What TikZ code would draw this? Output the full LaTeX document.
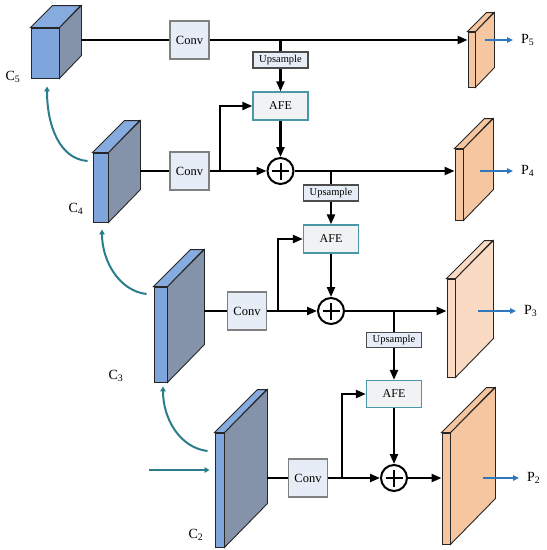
\documentclass[tikz,border=0pt]{standalone}
\usepackage{fontspec}
\setmainfont{Liberation Serif}
\usepackage{tikz}
\usetikzlibrary{arrows.meta, positioning, calc}
\definecolor{cfront}{HTML}{7FA6DC}
\definecolor{cside}{HTML}{8493AA}
\definecolor{ctop}{HTML}{86ABDE}
\definecolor{pfront}{HTML}{F6C6A0}
\definecolor{plight}{HTML}{FADAC2}
\definecolor{boxfill}{HTML}{E7EDF6}
\definecolor{afefill}{HTML}{F1F2F3}
\definecolor{afeline}{HTML}{4A97A8}
\definecolor{curveteal}{HTML}{2C7D8C}
\definecolor{outblue}{HTML}{2F77BC}
\tikzset{
	convbox/.style={draw=black!50, fill=boxfill, line width=1.1pt, minimum width=39, minimum height=38, inner sep=0, font=\fontsize{12.5}{14}\selectfont}
}
\tikzset{
	upbox/.style={draw=black!70, fill=boxfill, line width=1.1pt, minimum width=55, minimum height=16, inner sep=0, font=\fontsize{10.5}{12}\selectfont},
	afebox/.style={draw=afeline, fill=afefill, line width=1.3pt, minimum width=55, minimum height=28, inner sep=0, font=\fontsize{12}{13}\selectfont}
}
\tikzset{
	addop/.style={circle, draw, line width=2pt, minimum size=26, inner sep=0,
		path picture={\draw[line width=2pt] ($(path picture bounding box.center)+(-8.5,0)$) -- +(17,0)
			($(path picture bounding box.center)+(0,-8.5)$) -- +(0,17);}},
	plain/.style={line width=2.2pt},
	flow/.style={line width=2.2pt, -{Triangle[length=10pt,width=8pt]}},
	lateral/.style={curveteal, line width=2pt, -{Triangle[length=5pt,width=5.5pt]}},
	outarrow/.style={outblue, line width=1.6pt, -{Triangle[length=6pt,width=5.5pt]}},
	slab/.style={draw=black!85, line width=0.9pt, inner sep=0},
	lvl/.style={font=\fontsize{14}{16}\selectfont},
	plab/.style={font=\fontsize{14}{16}\selectfont, anchor=west, inner xsep=8, inner ysep=0}
}

\begin{document}
\begin{tikzpicture}[x=1pt, y=-1pt]
      \useasboundingbox (0,0) rectangle (547,550);
      % feature slabs: name/x/y/width/height/depth/front/side/top
      \foreach \n/\cx/\cy/\w/\h/\d/\fr/\sd/\tp in {
          c5/45/53/28/50/22/cfront/cside/ctop,
          c4/100.5/187.5/15/69/32/cfront/cside/ctop,
          c3/160.5/334.5/13/95/37/cfront/cside/ctop,
          c2/219.5/490/9/114/43/cfront/cside/ctop,
          p5/471.5/59.5/7/55/19/pfront/pfront/pfront,
          p4/459/184.5/8/71/30/pfront/pfront/pfront,
          p3/451/328/8/98/38/plight/plight/plight,
          p2/446/488.5/8/111/45/pfront/pfront/pfront}{
        \node[slab, fill=\fr, minimum width=\w, minimum height=\h] (\n) at (\cx,\cy) {};
        \draw[slab, fill=\sd] (\n.north east) -- ++(\d,-\d) -- ++(0,\h) -- (\n.south east) -- cycle;
        \draw[slab, fill=\tp] (\n.north west) -- ++(\d,-\d) -- ++(\w,0) -- (\n.north east) -- cycle;
        \coordinate (\n b) at ($(\n.east)+(\d,0)$);
      }
      \node[lvl] (c5l) at (13,77) {C\textsubscript{5}};
      \node[lvl] (c4l) at (76,209) {C\textsubscript{4}};
      \node[lvl] (c3l) at (116,376) {C\textsubscript{3}};
      \node[lvl] (c2l) at (196,535) {C\textsubscript{2}};

      \node[convbox] (conv5) at (189.5,40) {Conv};
      \node[convbox] (conv4) at (189.5,171) {Conv};
      \node[convbox] (conv3) at (247,311) {Conv};
      \node[convbox] (conv2) at (308,478) {Conv};

      \node[upbox] (ups4) at (280.5,60) {Upsample};
      \node[afebox] (afe4) at (280.5,106) {AFE};
      \node[addop] (add4) at (280.5,171) {};
      \node[upbox] (ups3) at (331,193) {Upsample};
      \node[afebox] (afe3) at (331,239) {AFE};
      \node[addop] (add3) at (331,311) {};
      \node[upbox, minimum height=15] (ups2) at (394,340) {Upsample};
      \node[afebox, minimum height=27] (afe2) at (394,394) {AFE};
      \node[addop] (add2) at (394,478) {};

      \coordinate (br4) at (220,171);
      \coordinate (br3) at (278,311);
      \coordinate (br2) at (342,478);

      % top-down path
      \draw[plain] (c5b |- conv5) -- (conv5);
      \draw[flow] (conv5) -- (conv5 -| p5.west);
      \draw[plain] (ups4 |- conv5) -- (ups4);
      \draw[flow] (ups4) -- (afe4);
      \draw[plain] (c4b |- conv4) -- (conv4);
      \draw[flow] (conv4) -- (add4);
      \draw[flow] (br4) |- (afe4);
      \draw[flow] (afe4) -- (add4);
      \draw[flow] (add4) -- (add4 -| p4.west);
      \draw[plain] (ups3 |- add4) -- (ups3);
      \draw[flow] (ups3) -- (afe3);
      \draw[plain] (c3b |- conv3) -- (conv3);
      \draw[flow] (conv3) -- (add3);
      \draw[flow] (br3) |- (afe3);
      \draw[flow] (afe3) -- (add3);
      \draw[flow] (add3) -- (add3 -| p3.west);
      \draw[plain] (ups2 |- add3) -- (ups2);
      \draw[flow] (ups2) -- (afe2);
      \draw[plain] (c2b |- conv2) -- (conv2);
      \draw[flow] (conv2) -- (add2);
      \draw[flow] (br2) |- (afe2);
      \draw[flow] (afe2) -- (add2);
      \draw[flow] (add2) -- (add2 -| p2.west);

      % backbone
      \coordinate (in) at (149,470);
      \draw[lateral] (in) -- ($(c2.west |- in)+(-5,0)$);
      \draw[lateral] ($(c2.west)+(-7,-39)$) .. controls +(-27,-3) and +(0,33) .. ($(c3.south)+(2.5,4)$);
      \draw[lateral] ($(c3.west)+(-7,-40.5)$) .. controls +(-27,-3) and +(0,32) .. ($(c4.south)+(1.5,7)$);
      \draw[lateral] ($(c4.west)+(-5,-26.5)$) .. controls +(-28,-2) and +(0,39) .. ($(c5.south)+(2,8)$);

      % outputs
      \foreach \p/\sx/\ex/\y/\i in {p5/485/513/40/5, p4/480/513/171/4, p3/478/516/311/3, p2/483/519/478/2}{
        \coordinate (\p o) at (\sx,\y);
        \node[plab] (\p l) at (\ex,\y) {P\textsubscript{\i}};
        \draw[outarrow] (\p o) -- (\p l);
      }
\end{tikzpicture}
\end{document}
